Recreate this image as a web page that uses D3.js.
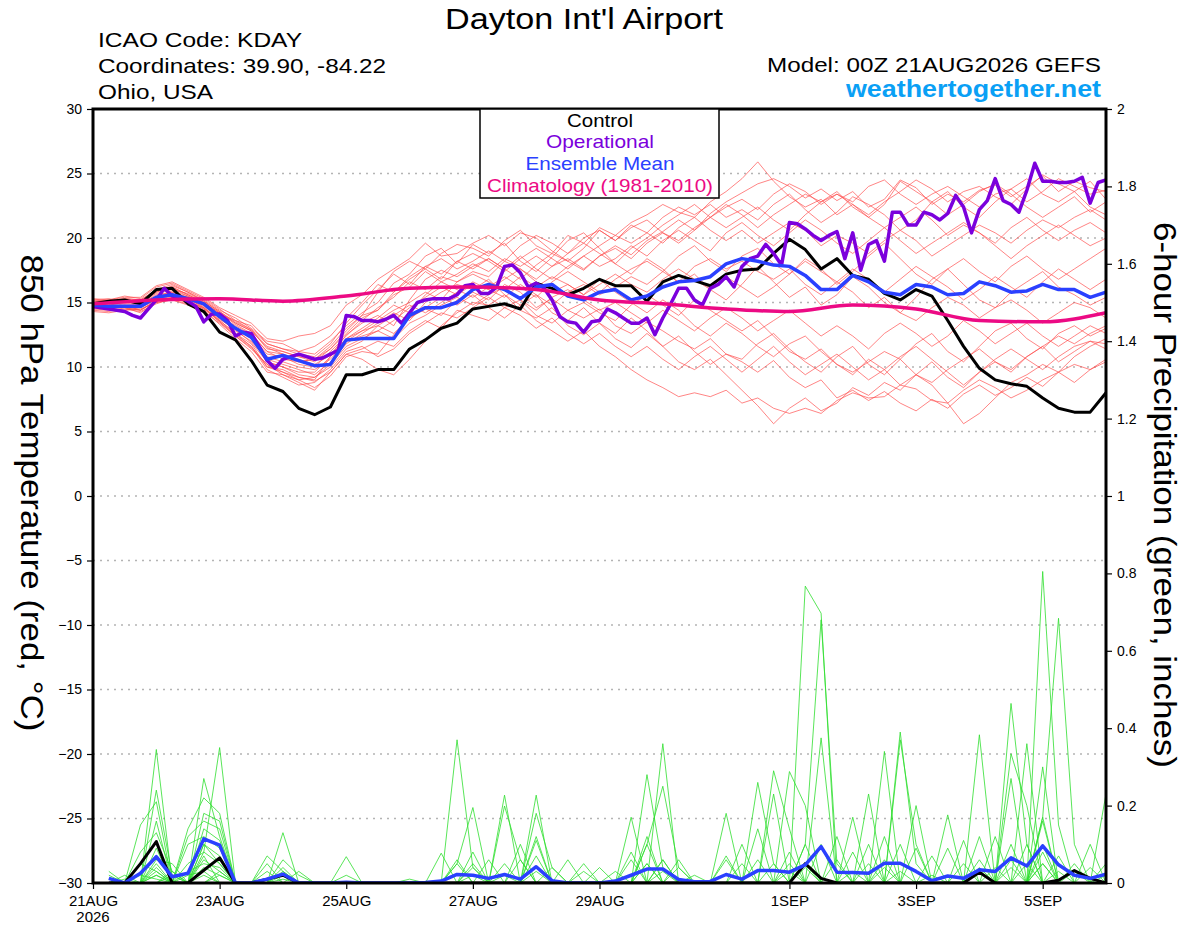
<!DOCTYPE html>
<html>
<head>
<meta charset="utf-8">
<script src="https://cdn.jsdelivr.net/npm/d3@7"></script>
<style>
  body { margin: 0; background: #fff; }
  svg { display: block; font-family: "Liberation Sans", Arial, Helvetica, sans-serif; }
</style>
</head>
<body>
<svg id="chart" width="1200" height="927"></svg>
<script>
// ---- run / axis definitions ----
const runStart = Date.UTC(2026, 7, 21, 0);
const runEnd = Date.UTC(2026, 8, 6, 0);
const stepHours = 6;     // ensemble, control, mean
const opStepHours = 3;   // operational run
const climStepHours = 24;

const dateTicks = [
  Date.UTC(2026, 7, 21), Date.UTC(2026, 7, 23), Date.UTC(2026, 7, 25), Date.UTC(2026, 7, 27),
  Date.UTC(2026, 7, 29), Date.UTC(2026, 8, 1), Date.UTC(2026, 8, 3), Date.UTC(2026, 8, 5)
];
const dateLabels = ["21AUG", "23AUG", "25AUG", "27AUG", "29AUG", "1SEP", "3SEP", "5SEP"];
const tempTicks = [-30, -25, -20, -15, -10, -5, 0, 5, 10, 15, 20, 25, 30];
const precipTicks = [0, 0.2, 0.4, 0.6, 0.8, 1, 1.2, 1.4, 1.6, 1.8, 2];

// ---- 850 hPa temperature (C), 6-hourly from 00Z 21AUG ----
const controlTemp = [14.9,15.1,15.2,14.9,16.0,16.1,14.9,14.3,12.7, 12.1,10.5,8.6,8.1,6.8,6.3,6.9,9.4,
  9.4,9.8,9.8,11.4,12.1,13.0,13.4,14.5, 14.7,14.9,14.5,16.5,16.1,15.6,16.1,16.8,16.3,16.3,15.1,16.6,17.1,16.7,16.3,17.2,
  17.5,17.6,18.8,19.9,19.1,17.6,18.4,17.1,16.8,15.7,15.2,16.0,15.5,13.6,11.6,9.9,9.0,8.7,8.5,7.6,6.8,6.5,6.5,8.0];

const meanTemp = [14.8,14.7,14.7,14.7,15.4,15.6,15.3,14.9,13.9, 13.0,12.3,10.6,10.9,10.5,10.1,10.2,12.1,
  12.2,12.2,12.2,14.0,14.6,14.6,15.0,16.0, 16.4,16.0,15.3,16.2,16.4,15.5,15.2,15.8,16.0,15.2,15.5,16.2,16.6,16.7,17.0,18.0,
  18.4,18.2,17.9,17.8,17.1,16.0,16.0,17.1,16.6,15.8,15.6,16.4,16.2,15.6,15.7,16.6,16.3,15.8,15.9,16.4,16.0,16.0,15.4,15.8];

// operational run, 3-hourly
const operationalTemp = [14.7,14.6,14.5,14.4,14.3,14.0,13.8,14.5,15.2,16.1,
  15.5,15.4,15.1,14.7,13.5,14.1,14.1,13.6,12.4,12.7,
  12.6,11.6,10.5,9.9,10.6,10.8,11.0,10.8,10.6,10.7,
  11.0,11.3,14.0,13.9,13.6,13.6,13.5,13.7,14.0,13.4,
  14.2,15.0,15.2,15.3,15.3,15.3,15.6,16.3,16.4,
  15.7,15.7,16.2,17.8,17.9,17.3,16.2,16.5,16.1,15.2,
  13.9,13.5,13.4,12.7,13.5,13.6,14.5,14.2,13.8,13.4,
  13.4,13.8,12.5,13.8,14.9,16.1,16.1,15.2,14.8,16.1,
  16.4,17.0,16.2,17.8,18.4,18.6,19.5,18.8,17.9,
  21.2,21.1,20.7,20.2,19.8,20.2,20.5,18.4,20.4,17.5,
  19.5,19.8,18.2,22.0,22.0,21.0,21.0,22.0,21.8,21.4,
  21.9,23.3,22.4,20.4,22.2,22.9,24.6,22.9,22.6,22.0,
  23.7,25.8,24.4,24.4,24.3,24.3,24.4,24.7,22.7,24.3,24.5];

// 1981-2010 climatology, daily
const climatologyTemp = [14.9,15.2,15.3,15.1,15.5,16.1,16.2,16.0,15.2,14.9,14.5,14.3,14.8,14.5,13.6,13.5,14.2];

// ensemble members (temperature)
const t01 = [15.0,14.9,15.2,15.0,15.8,16.2,15.6,15.0,14.2, 13.4,12.8,11.5,11.0,10.6,10.2,10.9,12.5, 13.4,14.0,13.2,15.2,16.8,17.5,17.0,17.8, 18.4,17.6,16.8,17.9,18.8,18.2,17.5,18.6,19.4,18.7,19.8,20.5,21.4,20.6,21.9,22.8, 23.5,24.2,24.6,24.0,23.1,23.8,22.9,23.6,22.4,23.0,24.5,23.9,22.6,23.4,22.8,23.7,24.1,23.2,24.0,24.8,23.6,24.4,23.9,23.6];
const t02 = [14.6,14.5,14.8,14.4,15.1,15.4,15.0,14.5,13.6, 12.6,11.8,10.0,9.6,9.0,8.4,9.3,10.8, 11.2,11.0,12.5,13.8,14.5,14.0,15.2,15.8, 15.2,16.4,15.8,14.6,15.3,14.4,13.8,14.5,13.2,12.6,13.5,12.8,12.0,11.4,12.2,11.0, 10.4,9.6,10.5,9.2,8.4,9.0,7.6,8.2,7.4,8.1,7.2,6.6,7.5,6.8,7.9,8.6,7.8,8.4,9.2,8.5,9.6,10.2,9.8,10.6];
const t03 = [15.2,15.3,15.0,15.1,16.0,16.4,15.8,15.2,14.4, 13.8,13.0,12.0,11.8,11.2,11.0,12.0,13.2, 14.2,15.0,16.5,17.2,18.6,19.2,18.0,19.5, 18.8,19.6,18.2,17.4,18.5,19.8,20.4,19.2,18.0,17.2,18.4,17.6,16.5,17.2,16.0,15.2, 16.4,17.8,16.6,15.4,16.2,14.8,15.6,17.0,16.2,15.0,14.2,15.4,16.8,17.6,16.4,15.2,14.6,15.8,16.6,17.4,16.2,15.6,14.8,15.4];
const t04 = [14.4,14.3,14.6,14.2,15.0,15.2,14.8,14.3,13.4, 12.4,11.4,10.2,9.4,8.8,8.2,9.6,11.0, 10.6,9.8,9.4,10.6,12.0,13.2,14.2,15.0, 14.8,15.6,14.4,13.8,14.6,13.2,12.5,13.4,12.2,11.5,12.6,11.6,10.4,9.8,10.6,9.4, 8.2,7.0,5.6,6.8,7.6,6.6,7.2,8.4,7.8,8.8,8.2,9.4,8.6,7.2,5.6,6.4,7.6,8.8,9.4,10.2,9.6,10.8,11.6,12.2];
const t05 = [15.0,15.1,15.3,15.2,15.9,16.1,15.5,14.8,14.0, 13.2,12.5,11.2,11.0,10.4,10.6,11.6,13.0, 14.0,15.8,17.4,18.2,17.6,18.8,19.5,19.2, 18.6,19.8,20.6,19.4,18.8,20.2,19.6,20.8,20.2,21.2,21.8,22.6,22.0,21.6,22.8,23.6, 24.6,25.9,24.4,23.2,22.4,23.0,21.8,22.6,21.6,20.8,21.6,22.4,21.4,20.2,21.0,20.4,19.6,20.8,21.6,20.6,19.8,20.6,21.2,20.4];
const t06 = [14.7,14.6,14.4,14.6,15.2,15.5,15.2,14.7,13.8, 12.8,12.0,10.6,10.2,9.8,9.4,10.4,11.8, 12.6,13.4,14.2,13.6,15.0,15.8,16.4,16.0, 16.8,15.6,14.8,15.6,14.2,13.6,14.6,13.4,12.6,13.8,12.8,11.6,12.4,11.2,10.2,11.0, 10.6,11.8,12.6,11.4,10.4,9.6,10.8,11.6,10.2,9.4,10.6,11.8,12.6,11.2,10.4,11.6,12.8,13.4,12.2,11.4,12.6,13.2,12.4,13.0];
const t07 = [15.3,15.2,15.5,15.3,16.2,16.5,15.9,15.3,14.5, 13.6,13.2,11.8,11.4,11.0,10.8,11.8,13.4, 14.8,16.0,17.2,16.4,17.8,18.4,17.6,18.2, 19.0,18.2,19.4,20.2,19.6,18.8,20.0,20.6,19.8,21.0,20.4,21.6,22.4,21.8,22.6,21.6, 22.2,21.4,22.6,23.4,22.2,21.2,22.0,23.2,22.6,21.8,20.6,21.4,22.8,23.6,22.4,21.6,22.8,23.8,24.6,23.4,22.8,23.6,22.4,21.8];
const t08 = [14.5,14.4,14.5,14.3,14.9,15.3,15.0,14.6,13.5, 12.5,11.6,9.8,9.2,8.6,8.8,9.8,11.2, 11.6,10.8,11.4,12.6,13.4,14.2,13.8,14.6, 15.4,14.6,15.2,14.0,13.4,14.4,15.0,14.2,13.6,14.8,15.6,14.8,14.0,15.2,14.4,13.6, 12.8,13.6,12.4,11.2,10.6,11.4,10.2,9.4,10.6,9.8,8.6,9.4,10.4,9.2,8.4,9.6,10.4,9.8,10.8,11.6,10.4,11.2,12.0,11.4];
const t09 = [14.9,14.8,15.0,14.9,15.6,15.8,15.4,14.9,14.1, 13.0,12.4,11.0,10.8,10.2,10.0,11.2,12.4, 13.6,14.6,15.4,16.6,16.0,17.0,16.6,17.4, 17.0,18.2,17.6,16.8,17.8,18.4,17.6,18.6,19.2,18.4,19.6,20.4,19.8,20.8,21.6,20.8, 21.6,22.4,21.4,20.6,21.8,22.8,23.4,22.6,21.8,22.8,23.6,24.5,23.8,22.8,23.6,24.0,23.2,22.6,23.8,24.9,24.2,23.6,24.4,23.0];
const t10 = [14.8,14.7,14.9,14.8,15.5,15.7,15.2,14.8,13.9, 13.1,12.2,10.8,10.4,10.0,9.8,10.6,12.0, 12.4,12.8,13.6,14.6,15.4,16.2,15.6,16.4, 16.0,15.4,16.4,15.6,14.8,15.8,16.4,15.6,16.2,17.0,16.4,17.4,16.6,17.8,18.4,17.6, 18.2,17.4,16.8,17.6,16.4,15.6,16.6,15.8,14.6,15.4,14.2,13.6,14.6,15.4,14.8,13.8,14.6,15.2,14.4,13.4,14.2,15.0,14.6,13.8];
const t11 = [14.6,14.5,14.7,14.6,15.3,15.6,15.1,14.6,13.7, 12.9,11.9,10.4,10.0,9.4,9.2,10.0,11.4, 12.0,13.2,12.6,13.8,14.6,15.4,14.8,15.6, 14.6,13.8,14.8,13.6,12.8,12.0,12.8,11.6,10.8,9.8,9.0,8.4,7.7,8.0,7.7,8.2, 7.2,7.6,6.8,6.4,6.8,6.4,7.4,8.0,7.6,7.7,8.6,8.3,7.4,7.2,8.2,9.0,8.4,7.6,8.2,9.0,9.6,8.8,9.8,10.4];
const t12 = [15.1,15.0,15.1,15.0,15.7,16.0,15.7,15.1,14.3, 13.5,12.9,11.4,11.2,10.8,10.4,11.4,12.8, 14.0,14.4,15.8,16.8,17.6,16.8,18.2,18.8, 18.2,17.4,18.4,19.2,18.4,17.6,18.6,19.4,20.2,19.6,20.4,19.6,20.8,21.6,20.6,19.8, 20.6,19.6,20.4,21.2,20.6,19.4,20.2,19.6,18.8,19.8,20.6,19.8,18.6,19.4,20.2,21.0,20.4,19.6,20.6,21.4,20.8,21.6,22.2,21.4];
const t13 = [14.9,14.9,14.7,14.8,15.4,15.9,15.5,15.0,14.2, 13.3,12.6,11.2,10.6,10.4,10.6,11.0,12.2, 13.0,13.8,14.8,14.2,15.6,16.6,16.0,15.4, 16.2,17.0,16.2,15.4,16.6,17.4,16.6,15.8,16.8,17.6,18.2,17.4,18.6,19.4,18.2,17.4, 18.6,19.2,18.0,17.2,18.4,17.6,16.4,17.4,18.6,19.6,18.4,17.2,16.4,17.6,18.4,17.4,16.6,17.8,18.6,17.6,16.8,17.6,18.4,19.2];
const t14 = [14.3,14.2,14.4,14.5,15.0,15.2,14.9,14.4,13.3, 12.2,11.2,9.6,9.4,9.0,9.2,10.2,11.6, 12.2,12.8,12.2,13.4,14.0,14.8,15.4,14.8, 15.6,16.2,15.2,14.4,15.4,16.0,15.2,14.4,15.0,14.2,13.4,14.4,13.6,12.8,13.8,14.6, 13.8,12.8,13.6,14.4,13.4,12.4,13.2,12.4,11.4,12.6,13.4,12.6,11.6,12.4,13.6,12.8,11.8,12.6,13.4,12.4,11.6,12.4,13.2,12.6];
const t15 = [15.1,15.2,15.4,15.4,16.3,16.6,16.0,15.4,14.6, 14.0,13.4,12.2,12.0,12.4,12.6,13.2,14.8, 15.6,16.8,17.6,18.4,19.6,18.6,18.8,19.6, 20.2,19.4,20.4,20.0,19.0,18.2,19.2,20.6,19.8,20.8,21.4,20.4,19.6,20.6,21.6,22.6, 21.8,20.8,21.8,22.6,23.4,22.8,23.6,22.4,21.6,22.6,24.4,23.6,22.8,21.8,22.6,23.6,24.2,23.4,22.4,21.6,22.4,23.2,22.0,22.8];
const t16 = [14.7,14.8,14.6,14.4,15.2,15.6,15.3,14.6,13.6, 12.6,11.6,10.0,9.8,9.2,9.0,10.8,12.2, 12.8,13.2,14.0,14.8,14.2,15.0,15.8,16.6, 16.0,16.8,17.6,16.6,15.8,16.4,15.6,16.8,15.8,15.0,14.2,15.2,14.4,13.2,12.4,13.4, 12.6,11.6,10.8,11.8,12.4,11.2,10.2,9.6,10.4,11.2,10.6,9.4,8.8,9.8,10.6,11.4,10.4,9.6,10.8,11.6,12.4,11.8,12.6,13.2];
const t17 = [15.0,15.0,15.1,15.1,15.8,16.3,15.8,15.1,14.3, 13.4,12.8,11.6,11.2,10.8,10.6,11.4,12.6, 13.8,14.4,15.6,16.2,17.4,16.6,17.2,18.0, 17.4,18.4,17.8,18.6,17.8,18.8,19.6,18.8,18.0,19.2,20.0,21.0,21.8,22.6,21.6,22.4, 23.0,22.2,23.4,24.2,23.6,22.6,23.4,22.8,24.0,24.5,23.4,22.6,23.4,24.0,23.2,22.4,23.4,23.8,22.8,23.6,24.6,24.0,23.4,23.7];
const t18 = [14.6,14.6,14.8,14.7,15.4,15.8,15.4,14.8,13.8, 13.0,12.2,10.4,10.0,9.6,9.6,10.8,12.0, 12.8,13.6,14.4,15.0,15.8,15.2,16.6,17.2, 16.6,16.0,17.0,16.2,17.0,16.4,15.6,16.4,17.2,16.4,15.8,16.8,17.6,16.8,16.0,17.0, 16.2,15.4,16.2,17.2,18.2,17.4,16.6,17.6,16.8,15.8,16.8,17.8,17.0,16.2,15.2,16.0,17.0,16.2,15.4,16.6,17.6,16.8,16.0,16.8];
const t19 = [14.5,14.6,14.6,14.4,15.1,15.4,15.1,14.5,13.5, 12.4,11.5,10.2,9.6,9.2,8.9,9.6,11.0, 11.4,12.0,11.6,12.8,13.6,13.0,14.4,14.0, 13.6,14.6,14.0,13.0,13.8,12.6,11.8,12.6,11.6,10.8,11.6,10.6,9.8,10.8,11.6,10.6, 9.6,10.6,11.6,10.4,9.4,10.2,11.0,10.0,9.0,9.8,10.8,11.6,10.6,9.6,8.6,9.6,10.6,11.4,10.6,9.8,10.8,11.6,12.0,11.8];
const t20 = [15.2,15.1,15.3,15.2,16.0,16.2,15.6,15.0,14.1, 13.6,12.9,11.8,11.4,11.2,11.6,12.4,13.8, 15.0,16.4,15.8,17.0,17.8,17.2,18.2,17.6, 18.4,17.6,18.6,17.6,16.8,17.8,18.6,17.8,18.4,19.4,18.6,19.8,20.6,19.8,19.0,20.4, 21.2,20.2,19.4,20.4,21.4,20.6,19.6,18.8,19.8,20.8,19.8,18.8,19.6,20.4,21.2,20.4,19.4,18.4,19.4,20.2,21.0,20.2,19.4,20.0];

// ---- 6-hour precipitation (inches), valid from 06Z 21AUG ----
const controlPrecip = [0,0,.05,.107,0,0,.033,.065, 0,0,.01,.02,0,0,0,0, 0,0,0,0,0,0,0,0, 0,0,0,0,0,0,0,0, 0,0,0,0,0,0,0,0, 0,0,0,0,.05,.012,0,0, 0,0,0,0,0,0,0,.028, 0,0,0,0,.007,.032,.012,0];
const meanPrecip = [.012,0,.025,.068,.016,.025,.114,.098, 0,0,.01,.023,0,0,0,.002, 0,0,0,0,.001,.005,.022,.02, .012,.022,.01,.042,.006,0,0,0, .005,.02,.036,.036,.009,.003,.004,.022, .01,.032,.032,.028,.047,.094,.028,.027, .025,.051,.051,.03,.006,.018,.012,.034, .03,.065,.044,.096,.047,.02,.012,.023];

const p01 = [0,0,0,.345,0,0,0,.02, 0,0,0,0,0,0,0,0, 0,0,0,0,0,0,.37,.04, 0,0,0,0,0,0,0,0, 0,0,0,0,0,0,0,0, 0,0,0,0,.767,.697,0,0, 0,0,0,0,0,0,0,0, 0,0,0,.05,0,0,0,0];
const p02 = [0,0,.15,.21,0,0,.08,.35, 0,0,0,0,0,0,0,0, 0,0,0,0,0,0,0,0, 0,0,0,.227,0,0,0,0, 0,0,0,0,0,0,0,0, 0,0,0,0,.1,.68,.05,0, 0,0,0,0,0,0,0,0, 0,.27,0,0,0,0,0,0];
const p03 = [0,0,0,.24,.02,0,.27,.12, 0,0,0,.13,0,0,0,0, 0,0,0,0,0,0,0,0, 0,.227,0,0,0,0,0,0, 0,0,0,.36,0,0,0,0, 0,0,0,0,0,0,0,0, 0,.34,0,0,0,0,0,0, 0,0,0,.805,.15,0,0,0];
const p04 = [0,0,0,.16,0,.14,.22,.18, 0,0,0,0,0,0,0,0, 0,0,0,0,0,0,.05,.195, 0,0,0,0,0,0,0,0, 0,0,.28,.04,0,0,0,0, 0,0,0,0,0,0,0,0, 0,0,.39,.05,0,0,0,0, 0,0,0,.17,.684,.1,0,0];
const p05 = [0,0,.08,.13,.03,0,.18,.16, 0,0,.07,.03,0,0,0,0, 0,0,0,0,0,0,0,0, 0,.199,.06,0,0,0,0,0, 0,0,.1,.25,.04,0,0,0, 0,0,0,.288,.2,0,0,0, 0,0,0,0,0,0,0,.383, 0,.1,0,0,0,0,0,0];
const p06 = [.03,0,0,.09,0,.12,.16,.14, 0,0,0,0,0,0,0,0, 0,0,0,0,0,0,0,0, 0,0,0,.18,.04,0,0,0, 0,0,.12,0,0,0,0,0, 0,.26,.05,0,0,0,0,0, 0,0,.37,.1,0,0,0,0, 0,.464,.1,0,0,0,0,0];
const p07 = [0,.02,0,.06,.05,0,.14,.11, 0,0,0,.06,.02,0,0,0, 0,0,0,0,0,0,.06,0, 0,0,0,.12,0,0,0,0, 0,.17,0,0,0,0,0,0, 0,0,.29,.14,0,0,0,0, .23,0,0,0,0,0,0,0, 0,0,0,.3,0,0,0,0];
const p08 = [0,0,0,.04,0,.1,.12,.09, 0,0,0,0,0,0,0,.068, 0,0,0,0,0,0,0,.08, 0,0,.1,0,0,0,0,0, 0,0,0,.06,0,0,0,.18, 0,0,.23,0,0,.375,0,0, 0,0,0,0,0,0,0,0, 0,.334,.2,0,0,0,0,0];
const p09 = [.02,0,.05,.03,0,0,.1,.07, 0,0,.05,0,0,0,0,0, 0,0,0,0,0,.077,0,0, 0,0,0,.11,0,0,0,0, 0,0,.1,0,0,0,0,0, .1,0,0,0,.05,0,0,0, 0,.12,0,0,0,.176,0,0, 0,0,0,.17,0,0,0,0];
const p10 = [0,0,0,.02,0,.05,.08,.05, 0,0,0,.04,0,0,0,0, 0,0,0,0,0,0,0,.05, 0,0,0,.07,0,0,0,0, 0,.08,0,0,0,0,0,0, 0,.14,0,.08,0,0,0,0, .1,0,0,.2,0,0,0,.12, 0,0,0,.16,0,0,0,.23];
const p11 = [0,0,0,0,.03,0,.06,.03, 0,0,0,0,.03,0,0,0, 0,0,0,0,0,0,0,0, .06,0,0,0,0,.06,0,0, 0,0,0,.06,0,0,0,.07, 0,0,0,0,0,0,.12,0, 0,.06,0,0,0,0,.11,0, 0,0,.36,0,0,.05,0,0];
const p12 = [.01,0,0,.02,0,.03,.05,.04, 0,0,.03,0,0,0,0,0, 0,0,0,0,0,0,0,0, 0,.05,0,0,0,0,.05,0, 0,0,.05,0,0,0,0,.06, 0,0,0,0,.1,0,0,.17, 0,0,.1,0,0,0,0,0, .12,0,0,.08,0,0,.1,0];
const p13 = [0,0,0,0,0,0,.04,.02, 0,0,0,.03,0,0,0,0, 0,0,0,0,0,0,.05,0, 0,0,.06,0,0,0,0,.04, 0,0,0,0,.06,0,0,0, 0,0,0,.05,0,0,0,.08, 0,0,0,0,.07,0,0,.06, 0,0,0,0,.07,0,0,.05];
const p14 = [0,0,.02,.01,0,.02,.03,0, 0,0,0,0,0,0,0,.02, 0,0,0,0,0,0,0,.04, 0,0,0,0,.04,0,0,0, .03,0,0,0,0,0,0,0, .05,0,0,0,0,0,.06,0, 0,0,0,.09,0,0,.05,0, 0,0,.1,0,0,0,.04,0];
const p15 = [0,0,0,0,0,0,.1,.05, 0,0,0,.02,0,0,0,0, 0,0,0,0,0,0,0,0, 0,0,0,0,0,0,0,0, 0,0,.05,0,.04,0,0,0, 0,0,.05,0,0,.1,0,0, 0,.04,0,0,0,.09,0,0, 0,.06,0,.05,0,.03,0,0];
const p16 = [0,0,0,.05,0,0,.07,0, 0,0,0,0,0,0,0,0, 0,0,0,.01,0,0,0,0, 0,0,0,.03,0,0,0,0, 0,.06,0,0,0,.02,0,0, 0,0,0,0,.04,0,0,0, .05,0,0,0,0,0,0,.04, 0,0,.05,0,.03,0,0,0];
const p17 = [0,.01,0,0,.02,0,0,.03, 0,0,0,0,0,0,0,0, 0,0,0,0,0,0,0,.02, 0,0,0,0,0,0,.03,0, 0,0,0,0,0,0,0,0, 0,.06,0,0,0,0,0,.03, 0,0,0,0,.02,0,0,0, .04,0,0,.1,0,0,0,0];
const p18 = [0,0,0,.03,0,0,.02,0, 0,0,0,.01,0,0,0,0, 0,0,0,0,0,0,0,0, 0,.02,0,0,0,0,0,0, 0,0,0,.03,0,0,0,0, 0,0,0,.03,0,0,0,0, 0,0,.03,0,0,0,0,0, 0,.04,0,0,0,0,0,.02];

const tempMembers = [t01, t02, t03, t04, t05, t06, t07, t08, t09, t10, t11, t12, t13, t14, t15, t16, t17, t18, t19, t20];
const precipMembers = [p01, p02, p03, p04, p05, p06, p07, p08, p09, p10, p11, p12, p13, p14, p15, p16, p17, p18];

// ---- layout ----
const plot = { left: 93, right: 1106, top: 109, bottom: 883 };
const colors = {
  member: '#ff4a4a',
  precip: '#2fde2f',
  control: '#000000',
  operational: '#7b00dc',
  mean: '#2a40ff',
  clim: '#ec0a84',
  site: '#0aa0f5'
};

const svg = d3.select('#chart');
const HOUR = 3600 * 1000;

// Scales
const x = d3.scaleUtc().domain([runStart, runEnd]).range([plot.left, plot.right]);
const yT = d3.scaleLinear().domain([-30, 30]).range([plot.bottom, plot.top]);
const yP = d3.scaleLinear().domain([0, 2]).range([plot.bottom, plot.top]);

svg.append('rect').attr('width', 1200).attr('height', 927).attr('fill', '#fff');

svg.append('clipPath').attr('id', 'plot-clip')
  .append('rect')
  .attr('x', plot.left).attr('y', plot.top)
  .attr('width', plot.right - plot.left).attr('height', plot.bottom - plot.top);

// Grid lines
svg.append('g').attr('class', 'grid')
  .selectAll('line')
  .data(tempTicks.filter(t => t > -30 && t < 30))
  .join('line')
  .attr('x1', plot.left).attr('x2', plot.right)
  .attr('y1', d => yT(d)).attr('y2', d => yT(d))
  .attr('stroke', '#b4b4b4')
  .attr('stroke-width', 1.3)
  .attr('stroke-dasharray', '2,5');

const lines = svg.append('g').attr('clip-path', 'url(#plot-clip)');

// line generators
const tempLine = (hours) => d3.line()
  .x((d, i) => x(runStart + i * hours * HOUR))
  .y(d => yT(d));
const precipLine = d3.line()
  .x((d, i) => x(runStart + (i + 1) * stepHours * HOUR))
  .y(d => yP(d));

// Ensemble temperature members
lines.append('g').attr('class', 'members')
  .selectAll('path')
  .data(tempMembers)
  .join('path')
  .attr('d', tempLine(stepHours))
  .attr('fill', 'none')
  .attr('stroke', colors.member)
  .attr('stroke-opacity', 0.85)
  .attr('stroke-width', 0.8);

// Ensemble precipitation members
lines.append('g').attr('class', 'precip-members')
  .selectAll('path')
  .data(precipMembers)
  .join('path')
  .attr('d', precipLine)
  .attr('fill', 'none')
  .attr('stroke', colors.precip)
  .attr('stroke-width', 0.8);

// Control
lines.append('path').datum(controlTemp)
  .attr('d', tempLine(stepHours))
  .attr('fill', 'none').attr('stroke', colors.control)
  .attr('stroke-width', 3).attr('stroke-linejoin', 'round');
lines.append('path').datum(controlPrecip)
  .attr('d', precipLine)
  .attr('fill', 'none').attr('stroke', colors.control)
  .attr('stroke-width', 3).attr('stroke-linejoin', 'round');

// Operational
lines.append('path').datum(operationalTemp)
  .attr('d', tempLine(opStepHours))
  .attr('fill', 'none').attr('stroke', colors.operational)
  .attr('stroke-width', 3.5).attr('stroke-linejoin', 'round');

// Ensemble mean
lines.append('path').datum(meanTemp)
  .attr('d', tempLine(stepHours))
  .attr('fill', 'none').attr('stroke', colors.mean)
  .attr('stroke-width', 3.5).attr('stroke-linejoin', 'round');
lines.append('path').datum(meanPrecip)
  .attr('d', precipLine)
  .attr('fill', 'none').attr('stroke', colors.mean)
  .attr('stroke-width', 3.5).attr('stroke-linejoin', 'round');

// Climatology
lines.append('path').datum(climatologyTemp)
  .attr('d', tempLine(climStepHours).curve(d3.curveMonotoneX))
  .attr('fill', 'none').attr('stroke', colors.clim)
  .attr('stroke-width', 3.5);

// Axes
const leftAxis = svg.append('g')
  .attr('transform', `translate(${plot.left},0)`)
  .call(d3.axisLeft(yT).tickValues(tempTicks).tickSize(6).tickPadding(5).tickFormat(d3.format('d')));
const rightAxis = svg.append('g')
  .attr('transform', `translate(${plot.right},0)`)
  .call(d3.axisRight(yP).tickValues(precipTicks).tickSize(6).tickPadding(5)
    .tickFormat(d => d3.format('~g')(+d.toFixed(1))));
const bottomAxis = svg.append('g')
  .attr('transform', `translate(0,${plot.bottom})`)
  .call(d3.axisBottom(x).tickValues(dateTicks).tickSize(6).tickPadding(6)
    .tickFormat((d, i) => dateLabels[i]));

[leftAxis, rightAxis, bottomAxis].forEach(g => {
  g.select('.domain').remove();
  g.selectAll('.tick line').attr('stroke', '#000').attr('stroke-width', 1.2);
  g.selectAll('.tick text')
    .attr('fill', '#000')
    .style('font-family', '"Liberation Sans", Arial, sans-serif');
});
leftAxis.selectAll('.tick text').style('font-size', '14px');
rightAxis.selectAll('.tick text').style('font-size', '14px');
bottomAxis.selectAll('.tick text').style('font-size', '15px');

bottomAxis.append('text')
  .attr('x', x(dateTicks[0])).attr('y', 39)
  .attr('text-anchor', 'middle')
  .attr('fill', '#000')
  .style('font-size', '15px')
  .text('2026');

// Frame
svg.append('rect')
  .attr('x', plot.left).attr('y', plot.top)
  .attr('width', plot.right - plot.left).attr('height', plot.bottom - plot.top)
  .attr('fill', 'none').attr('stroke', '#000').attr('stroke-width', 3);

// Legend
const legend = svg.append('g').attr('class', 'legend');
legend.append('rect')
  .attr('x', 480).attr('y', plot.top)
  .attr('width', 239).attr('height', 89)
  .attr('fill', '#fff').attr('stroke', '#000').attr('stroke-width', 1.5);
const legendItems = [
  { label: 'Control', color: colors.control, y: 127, len: 66 },
  { label: 'Operational', color: colors.operational, y: 148, len: 108 },
  { label: 'Ensemble Mean', color: colors.mean, y: 170, len: 149 },
  { label: 'Climatology (1981-2010)', color: colors.clim, y: 192, len: 226 }
];
legend.selectAll('text')
  .data(legendItems)
  .join('text')
  .attr('x', 600).attr('y', d => d.y)
  .attr('text-anchor', 'middle')
  .attr('textLength', d => d.len).attr('lengthAdjust', 'spacingAndGlyphs')
  .attr('fill', d => d.color)
  .style('font-size', '19px')
  .text(d => d.label);

// Header texts
svg.append('text')
  .attr('x', 584).attr('y', 29)
  .attr('text-anchor', 'middle')
  .attr('textLength', 278).attr('lengthAdjust', 'spacingAndGlyphs')
  .style('font-size', '30px')
  .text("Dayton Int'l Airport");

const infoLines = [
  { text: 'ICAO Code: KDAY', y: 47, len: 204 },
  { text: 'Coordinates: 39.90, -84.22', y: 73, len: 288 },
  { text: 'Ohio, USA', y: 99, len: 115 }
];
svg.append('g').selectAll('text')
  .data(infoLines)
  .join('text')
  .attr('x', 98).attr('y', d => d.y)
  .attr('textLength', d => d.len).attr('lengthAdjust', 'spacingAndGlyphs')
  .style('font-size', '21px')
  .text(d => d.text);

svg.append('text')
  .attr('x', 1101).attr('y', 72)
  .attr('text-anchor', 'end')
  .attr('textLength', 334).attr('lengthAdjust', 'spacingAndGlyphs')
  .style('font-size', '21px')
  .text('Model: 00Z 21AUG2026 GEFS');

svg.append('text')
  .attr('x', 1101).attr('y', 97)
  .attr('text-anchor', 'end')
  .attr('textLength', 255).attr('lengthAdjust', 'spacingAndGlyphs')
  .attr('fill', colors.site)
  .style('font-size', '23px')
  .style('font-weight', 'bold')
  .text('weathertogether.net');

// Axis titles (rotated, reading top to bottom)
svg.append('text')
  .attr('transform', 'translate(21,493) rotate(90)')
  .attr('text-anchor', 'middle')
  .attr('textLength', 477).attr('lengthAdjust', 'spacingAndGlyphs')
  .style('font-size', '31px')
  .text('850 hPa Temperature (red, °C)');

svg.append('text')
  .attr('transform', 'translate(1154,495) rotate(90)')
  .attr('text-anchor', 'middle')
  .attr('textLength', 546).attr('lengthAdjust', 'spacingAndGlyphs')
  .style('font-size', '31px')
  .text('6-hour Precipitation (green, inches)');
</script>
</body>
</html>
